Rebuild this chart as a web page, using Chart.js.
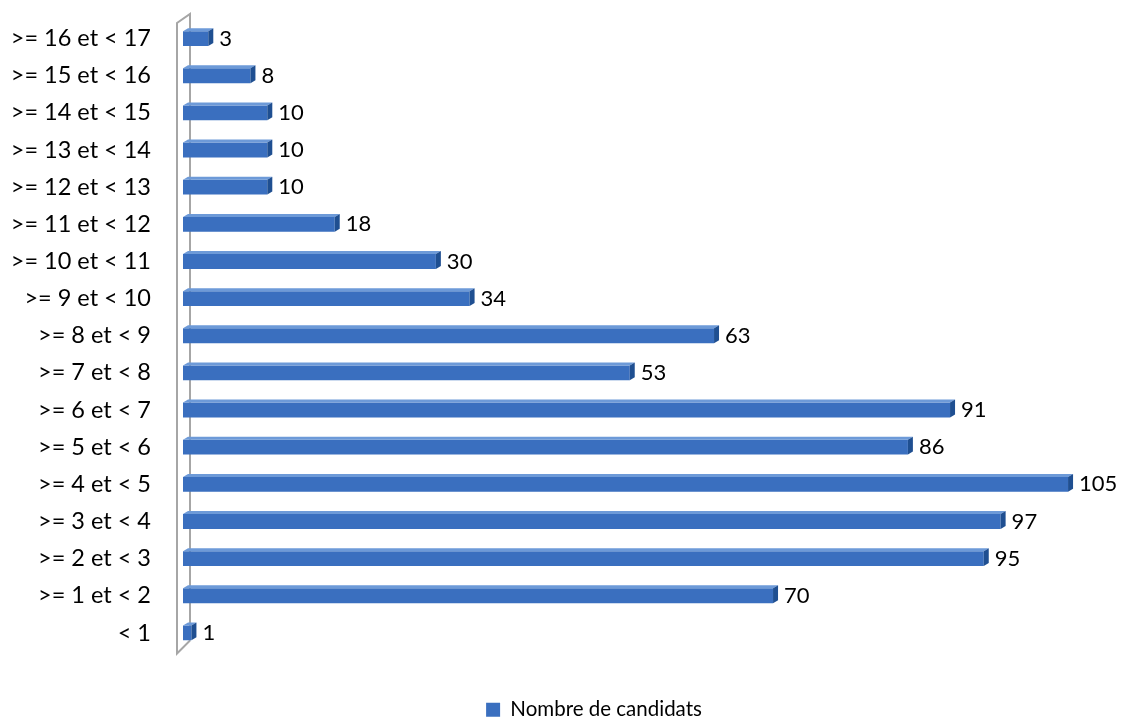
<!DOCTYPE html>
<html>
<head>
<meta charset="utf-8">
<script src="https://cdn.jsdelivr.net/npm/chart.js@4.4.1/dist/chart.umd.min.js"></script>
<style>
  html, body { margin: 0; padding: 0; background: #fff; }
  #wrap { width: 1122px; height: 722px; }
</style>
</head>
<body>
<div id="wrap"><canvas id="chart" width="1122" height="722"></canvas></div>
<script>
// Données
const categories = [
  "< 1", ">= 1 et < 2", ">= 2 et < 3", ">= 3 et < 4", ">= 4 et < 5",
  ">= 5 et < 6", ">= 6 et < 7", ">= 7 et < 8", ">= 8 et < 9", ">= 9 et < 10",
  ">= 10 et < 11", ">= 11 et < 12", ">= 12 et < 13", ">= 13 et < 14",
  ">= 14 et < 15", ">= 15 et < 16", ">= 16 et < 17"
];
const candidats = [1, 70, 95, 97, 105, 86, 91, 53, 63, 34, 30, 18, 10, 10, 10, 8, 3];
const seriesLabel = "Nombre de candidats";

const FONT = "Lato, 'Open Sans', sans-serif";
const DEPTH_X = 5, DEPTH_Y = 3;

// mur 3D derrière l'axe des catégories
const wallPlugin = {
  id: "wall",
  beforeDatasetsDraw(chart) {
    const { ctx, chartArea: a } = chart;
    const lx = a.left - 6, bx = a.left + 7;
    ctx.save();
    ctx.strokeStyle = "#a6a6a6";
    ctx.lineWidth = 2;
    ctx.beginPath();
    ctx.moveTo(bx, a.bottom - 11);
    ctx.lineTo(bx, a.top - 6);
    ctx.lineTo(lx, a.top + 3);
    ctx.lineTo(lx, a.bottom + 2);
    ctx.lineTo(bx, a.bottom - 11);
    ctx.stroke();
    ctx.restore();
  }
};

// faces supérieure et latérale des barres + étiquettes
const bar3dPlugin = {
  id: "bar3d",
  afterDatasetsDraw(chart) {
    const { ctx } = chart;
    const meta = chart.getDatasetMeta(0);
    ctx.save();
    meta.data.forEach((bar, i) => {
      const x0 = bar.base, x1 = bar.x;
      const top = bar.y - bar.height / 2, bot = bar.y + bar.height / 2;
      // face supérieure
      ctx.fillStyle = "#6d9ad8";
      ctx.beginPath();
      ctx.moveTo(x0, top);
      ctx.lineTo(x0 + DEPTH_X, top - DEPTH_Y);
      ctx.lineTo(x1 + DEPTH_X, top - DEPTH_Y);
      ctx.lineTo(x1, top);
      ctx.closePath();
      ctx.fill();
      // face latérale
      ctx.fillStyle = "#1f4f91";
      ctx.beginPath();
      ctx.moveTo(x1, top);
      ctx.lineTo(x1 + DEPTH_X, top - DEPTH_Y);
      ctx.lineTo(x1 + DEPTH_X, bot - DEPTH_Y);
      ctx.lineTo(x1, bot);
      ctx.closePath();
      ctx.fill();
      // étiquette
      ctx.fillStyle = "#000";
      ctx.font = "22px " + FONT;
      ctx.textAlign = "left";
      ctx.textBaseline = "middle";
      ctx.fillText(String(candidats[i]), x1 + DEPTH_X + 6, bar.y);
    });
    ctx.restore();
  }
};

// décale la légende vers la droite (centrée comme dans l'original)
const legendShift = {
  id: "legendShift",
  afterLayout(chart) {
    if (chart.legend) chart.legend.left = 66;
  }
};

const ctx = document.getElementById("chart").getContext("2d");

new Chart(ctx, {
  type: "bar",
  data: {
    labels: categories,
    datasets: [{
      label: seriesLabel,
      data: candidats,
      backgroundColor: "#3a6fbf",
      borderWidth: 0,
      categoryPercentage: 1,
      barPercentage: 0.4
    }]
  },
  options: {
    indexAxis: "y",
    responsive: false,
    animation: false,
    layout: { padding: { left: 0, right: 0, top: 20, bottom: -8 } },
    scales: {
      x: {
        min: 0,
        max: 111.4,
        grid: { display: false },
        border: { display: false },
        ticks: { display: false },
        afterFit: (s) => { s.height = 46; }
      },
      y: {
        reverse: true,
        grid: { display: false },
        border: { display: false },
        ticks: {
          color: "#000",
          font: { family: FONT, size: 23.5 },
          padding: 24
        },
        afterFit: (s) => {
          s.width = 183;
          s.paddingTop = 0;
          s.paddingBottom = 0;
        }
      }
    },
    plugins: {
      legend: {
        position: "bottom",
        labels: {
          color: "#000",
          font: { family: FONT, size: 20.5 },
          boxWidth: 14,
          boxHeight: 14,
          padding: 2
        }
      },
      tooltip: { enabled: false }
    }
  },
  plugins: [wallPlugin, bar3dPlugin, legendShift]
});
</script>
</body>
</html>
